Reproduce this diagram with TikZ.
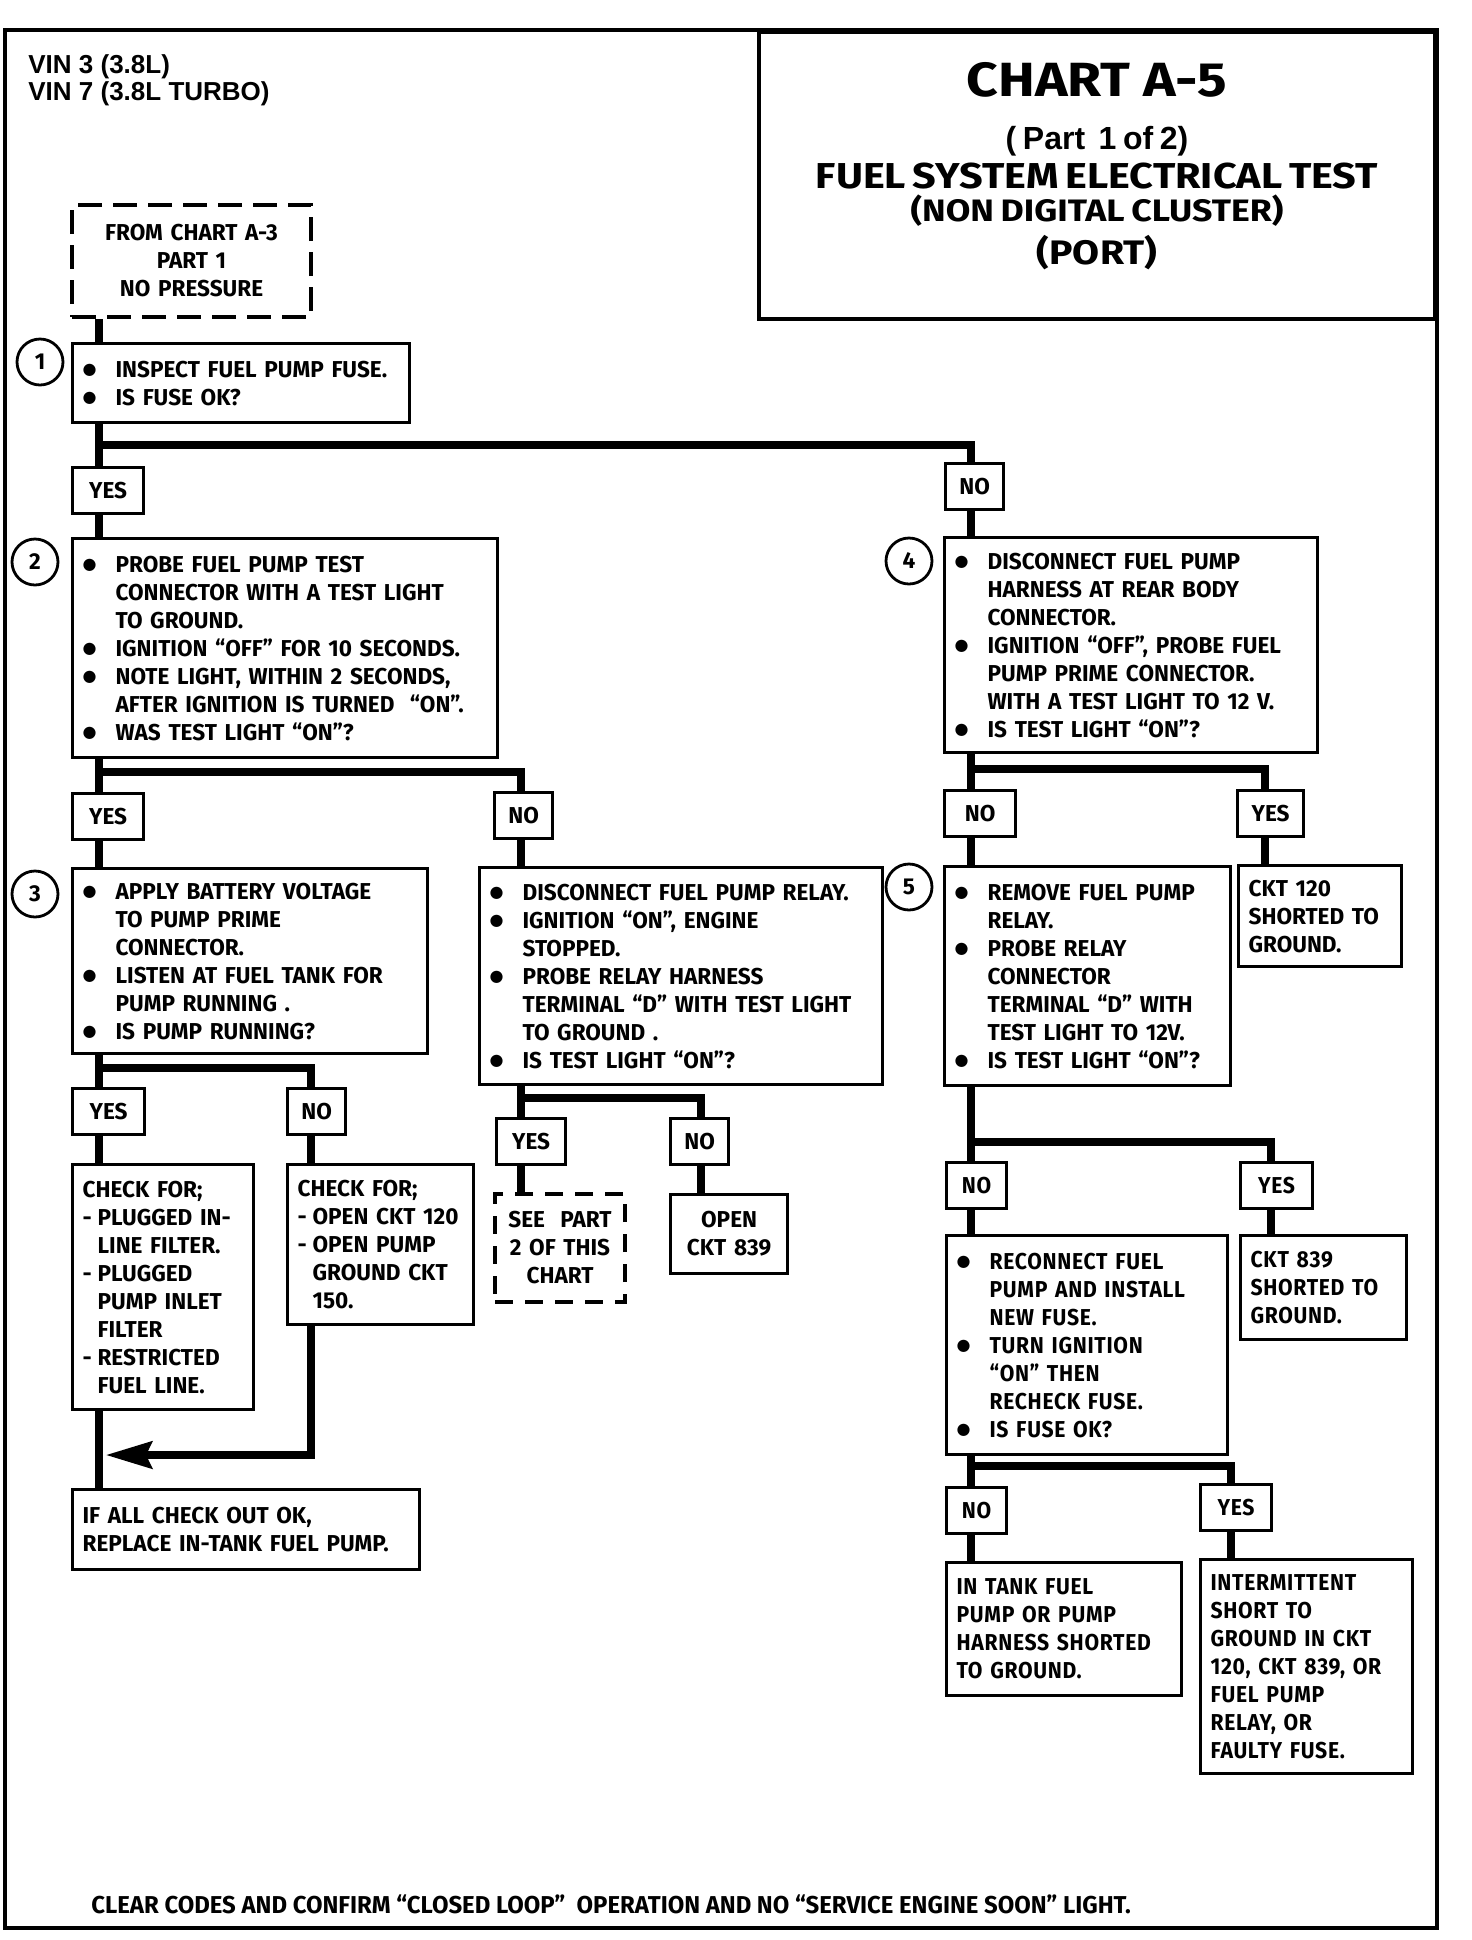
\documentclass[tikz,border=0pt]{standalone}
\usepackage{fontspec}
\setmainfont{Fira Sans}[FakeStretch=0.98]
\newfontfamily\helvfont{Liberation Sans}
\newfontfamily\titlefont{Fira Sans}[FakeStretch=1.15]
\newfontfamily\widefont{Fira Sans}[FakeStretch=0.92, LetterSpace=3]
\newfontfamily\dotfont{DejaVu Sans}
\usetikzlibrary{arrows.meta,positioning}
\setlength\parindent{0pt}
\newcommand\bodyfont{\fontsize{11.5}{14}\selectfont\bfseries}
\newcommand\bul{\makebox[16.5pt][l]{\raisebox{1.3pt}{\dotfont\fontsize{8}{8}\selectfont ●}}}
\newcommand\ind{\hspace*{16.5pt}}
\newcommand\dsh{\makebox[7.5pt][l]{-}}
\newcommand\dind{\hspace*{7.5pt}}

\begin{document}
\begin{tikzpicture}[
x=0.5pt, y=-0.5pt,
frame/.style={line width=2.2pt},
wire/.style={line width=3.6pt, line join=miter},
stepbox/.style={
draw,
line width=1.6pt,
anchor=north west,
align=left,
inner xsep=5pt,
inner ysep=0pt,
font=\bodyfont
},
centerbox/.style={stepbox, align=center},
dashbox/.style={
draw,
line width=2pt,
dash pattern=on 12pt off 5.5pt,
anchor=north west,
align=center,
inner xsep=0pt,
inner ysep=0pt,
font=\bodyfont
},
answer/.style={
draw,
line width=1.6pt,
anchor=north west,
minimum height=22.75pt,
inner xsep=6pt,
font=\bodyfont
},
stepnum/.style={
circle,
draw,
line width=1.4pt,
minimum size=23pt,
inner sep=0pt,
font=\bodyfont
},
titlebox/.style={
draw,
line width=2pt,
anchor=north east,
minimum width=338pt,
minimum height=143.5pt,
text width=330pt,
inner xsep=4pt,
align=center,
font=\bfseries
}
]
\useasboundingbox (0,0) rectangle (1472,1940);
\draw[frame] (5,30) rectangle (1437,1928);

% Kopf
\node[anchor=north west, inner sep=0pt, align=left, font=\helvfont\fontsize{13}{13.8}\selectfont\bfseries] (vin) at (28,54) {VIN 3 (3.8L)\\VIN 7 (3.8L TURBO)};
\node[titlebox] (title) at (1437,30) {%
{\titlefont\fontsize{24}{24}\selectfont CHART\ \ A-5\par}
{\helvfont\fontsize{16}{26.5}\selectfont ( Part\ \ 1 of 2)\par}
{\titlefont\fontsize{18}{19.25}\selectfont FUEL SYSTEM\ ELECTRICAL TEST\par}
{\titlefont\fontsize{15.5}{16.75}\selectfont (NON DIGITAL CLUSTER)\par}
{\titlefont\fontsize{17}{21.6}\selectfont (PORT)\par}
\nointerlineskip\rule{0pt}{9pt}};

% Schritte
\node[dashbox, text width=119.5pt, minimum height=56pt] (from3) at (70,203) {FROM CHART A-3\\PART 1\\NO PRESSURE};
\node[stepbox, text width=158.5pt, minimum height=39.5pt] (box1) at (71,342) {\bul INSPECT FUEL PUMP FUSE.\\\bul IS FUSE OK?};
\node[stepbox, text width=202.5pt, minimum height=109.5pt] (box2) at (71,537) {\bul PROBE FUEL PUMP TEST\\\ind CONNECTOR WITH A TEST LIGHT\\\ind TO GROUND.\\\bul IGNITION “OFF” FOR 10 SECONDS.\\\bul NOTE LIGHT, WITHIN 2 SECONDS,\\\ind AFTER IGNITION IS TURNED\ \ “ON”.\\\bul WAS TEST LIGHT “ON”?};
\node[stepbox, text width=167.5pt, minimum height=92.5pt] (box3) at (71,867) {\bul APPLY BATTERY VOLTAGE\\\ind TO PUMP PRIME\\\ind CONNECTOR.\\\bul LISTEN AT FUEL TANK FOR\\\ind PUMP RUNNING .\\\bul IS PUMP RUNNING?};
\node[stepbox, text width=191.5pt, minimum height=108.5pt] (relay) at (478,866) {\bul DISCONNECT FUEL PUMP RELAY.\\\bul IGNITION “ON”, ENGINE\\\ind STOPPED.\\\bul PROBE RELAY HARNESS\\\ind TERMINAL “D” WITH TEST LIGHT\\\ind TO GROUND .\\\bul IS TEST LIGHT “ON”?};
\node[stepbox, text width=176.5pt, minimum height=107.5pt] (box4) at (943,536) {\bul DISCONNECT FUEL PUMP\\\ind HARNESS AT REAR BODY\\\ind CONNECTOR.\\\bul IGNITION “OFF”, PROBE FUEL\\\ind PUMP PRIME CONNECTOR.\\\ind WITH A TEST LIGHT TO 12 V.\\\bul IS TEST LIGHT “ON”?};
\node[stepbox, text width=133pt, minimum height=109.5pt] (box5) at (943,865) {\bul REMOVE FUEL PUMP\\\ind RELAY.\\\bul PROBE RELAY\\\ind CONNECTOR\\\ind TERMINAL “D” WITH\\\ind TEST LIGHT TO 12V.\\\bul IS TEST LIGHT “ON”?};
\node[stepbox, text width=71.5pt, minimum height=50.5pt] (ckt120) at (1237,864) {CKT 120\\SHORTED TO\\GROUND.};
\node[stepbox, text width=80.5pt, minimum height=122.5pt] (check1) at (71,1163) {CHECK FOR;\\\dsh PLUGGED IN-\\\dind LINE FILTER.\\\dsh PLUGGED\\\dind PUMP INLET\\\dind FILTER\\\dsh RESTRICTED\\\dind FUEL LINE.};
\node[stepbox, text width=83pt, minimum height=80pt] (check2) at (286,1163) {CHECK FOR;\\\dsh OPEN~CKT~120\\\dsh OPEN PUMP\\\dind GROUND CKT\\\dind 150.};
\node[dashbox, dash pattern=on 9pt off 6pt, text width=65pt, minimum height=54pt] (seepart) at (493,1192) {SEE\ \ PART\\2 OF THIS\\CHART};
\node[centerbox, text width=48.5pt, minimum height=39.5pt] (open839) at (669,1193) {OPEN\\CKT 839};
\node[stepbox, text width=163.5pt, minimum height=40pt] (final) at (71,1488) {IF ALL CHECK OUT OK,\\REPLACE IN-TANK FUEL PUMP.};
\node[stepbox, text width=130.5pt, minimum height=109.5pt, font=\bodyfont\widefont] (reconnect) at (945,1234) {\bul RECONNECT FUEL\\\ind PUMP AND INSTALL\\\ind NEW FUSE.\\\bul TURN IGNITION\\\ind “ON” THEN\\\ind RECHECK FUSE.\\\bul IS FUSE OK?};
\node[stepbox, text width=73pt, minimum height=52pt, font=\bodyfont\widefont] (ckt839) at (1239,1234) {CKT 839\\SHORTED~TO\\GROUND.};
\node[stepbox, text width=107.5pt, minimum height=66.5pt, font=\bodyfont\widefont] (intank) at (945,1561) {IN TANK FUEL\\PUMP OR PUMP\\HARNESS~SHORTED\\TO GROUND.};
\node[stepbox, text width=96pt, minimum height=107pt, font=\bodyfont\widefont] (intermit) at (1199,1558) {INTERMITTENT\\SHORT TO\\GROUND IN CKT\\120, CKT~839, OR\\FUEL PUMP\\RELAY, OR\\FAULTY FUSE.};

% Nummern
\node[stepnum] (n1) at (40,362) {1};
\node[stepnum] (n2) at (35,562) {2};
\node[stepnum] (n3) at (35,894) {3};
\node[stepnum] (n4) at (909,561) {4};
\node[stepnum] (n5) at (909,887) {5};

% Antworten
\node[answer, minimum width=35.5pt] (yes1) at (71,466) {YES};
\node[answer, minimum width=29pt] (no1) at (944,462) {NO};
\node[answer, minimum width=35.5pt] (yes2) at (71,792) {YES};
\node[answer, minimum width=29pt] (no2) at (493,791) {NO};
\node[answer, minimum width=35.5pt] (no3) at (943,789) {NO};
\node[answer, minimum width=33pt] (yes3) at (1236,789) {YES};
\node[answer, minimum width=36pt] (yes4) at (71,1087) {YES};
\node[answer, minimum width=29pt] (no4) at (286,1087) {NO};
\node[answer, minimum width=34.5pt] (yes5) at (495,1117) {YES};
\node[answer, minimum width=29pt] (no5) at (669,1117) {NO};
\node[answer, minimum width=30pt, font=\bodyfont\widefont] (no6) at (945,1161) {NO};
\node[answer, minimum width=36pt, font=\bodyfont\widefont] (yes6) at (1239,1161) {YES};
\node[answer, minimum width=30pt, font=\bodyfont\widefont] (no7) at (945,1486) {NO};
\node[answer, minimum width=35.5pt, font=\bodyfont\widefont] (yes7) at (1199,1483) {YES};

% Abzweige
\coordinate (j1) at (99,445);   \coordinate (j1r) at (971,445);
\coordinate (j2) at (99,772);   \coordinate (j2r) at (521,772);
\coordinate (j4) at (971,769);  \coordinate (j4r) at (1265,769);
\coordinate (j3) at (99,1068);  \coordinate (j3r) at (311,1068);
\coordinate (jr) at (521,1098); \coordinate (jrr) at (701,1098);
\coordinate (j5) at (971,1142); \coordinate (j5r) at (1271,1142);
\coordinate (j6) at (971,1466); \coordinate (j6r) at (1231,1466);
\coordinate (back) at (106,1455);

% Verbindungen
\draw[wire] (from3.south -| j1) -- (box1.north -| j1);
\draw[wire] (box1.south -| j1) -- (yes1.north -| j1);
\draw[wire] (j1) -- (j1r) -- (no1.north -| j1r);
\draw[wire] (yes1.south -| j1) -- (box2.north -| j1);
\draw[wire] (no1.south -| j1r) -- (box4.north -| j1r);
\draw[wire] (box2.south -| j2) -- (yes2.north -| j2);
\draw[wire] (j2) -- (j2r) -- (no2.north -| j2r);
\draw[wire] (yes2.south -| j2) -- (box3.north -| j2);
\draw[wire] (no2.south -| j2r) -- (relay.north -| j2r);
\draw[wire] (box4.south -| j4) -- (no3.north -| j4);
\draw[wire] (j4) -- (j4r) -- (yes3.north -| j4r);
\draw[wire] (no3.south -| j4) -- (box5.north -| j4);
\draw[wire] (yes3.south -| j4r) -- (ckt120.north -| j4r);
\draw[wire] (box3.south -| j3) -- (yes4.north -| j3);
\draw[wire] (j3) -- (j3r) -- (no4.north -| j3r);
\draw[wire] (yes4.south -| j3) -- (check1.north -| j3);
\draw[wire] (no4.south -| j3r) -- (check2.north -| j3r);
\draw[wire] (check1.south -| j3) -- (final.north -| j3);
\draw[wire, -{Stealth[length=23pt, width=13.5pt, inset=3pt]}] (check2.south -| j3r) |- (back);
\draw[wire] (relay.south -| jr) -- (yes5.north -| jr);
\draw[wire] (jr) -- (jrr) -- (no5.north -| jrr);
\draw[wire] (yes5.south -| jr) -- (seepart.north -| jr);
\draw[wire] (no5.south -| jrr) -- (open839.north -| jrr);
\draw[wire] (box5.south -| j5) -- (no6.north -| j5);
\draw[wire] (j5) -- (j5r) -- (yes6.north -| j5r);
\draw[wire] (no6.south -| j5) -- (reconnect.north -| j5);
\draw[wire] (yes6.south -| j5r) -- (ckt839.north -| j5r);
\draw[wire] (reconnect.south -| j6) -- (no7.north -| j6);
\draw[wire] (j6) -- (j6r) -- (yes7.north -| j6r);
\draw[wire] (no7.south -| j6) -- (intank.north -| j6);
\draw[wire] (yes7.south -| j6r) -- (intermit.north -| j6r);

% Fuss
\node[anchor=base west, inner sep=0pt, font=\fontsize{12.2}{14}\selectfont\bfseries] (footer) at (91,1913) {CLEAR CODES AND CONFIRM “CLOSED LOOP”\ \ OPERATION AND NO “SERVICE ENGINE SOON” LIGHT.};
\end{tikzpicture}
\end{document}
